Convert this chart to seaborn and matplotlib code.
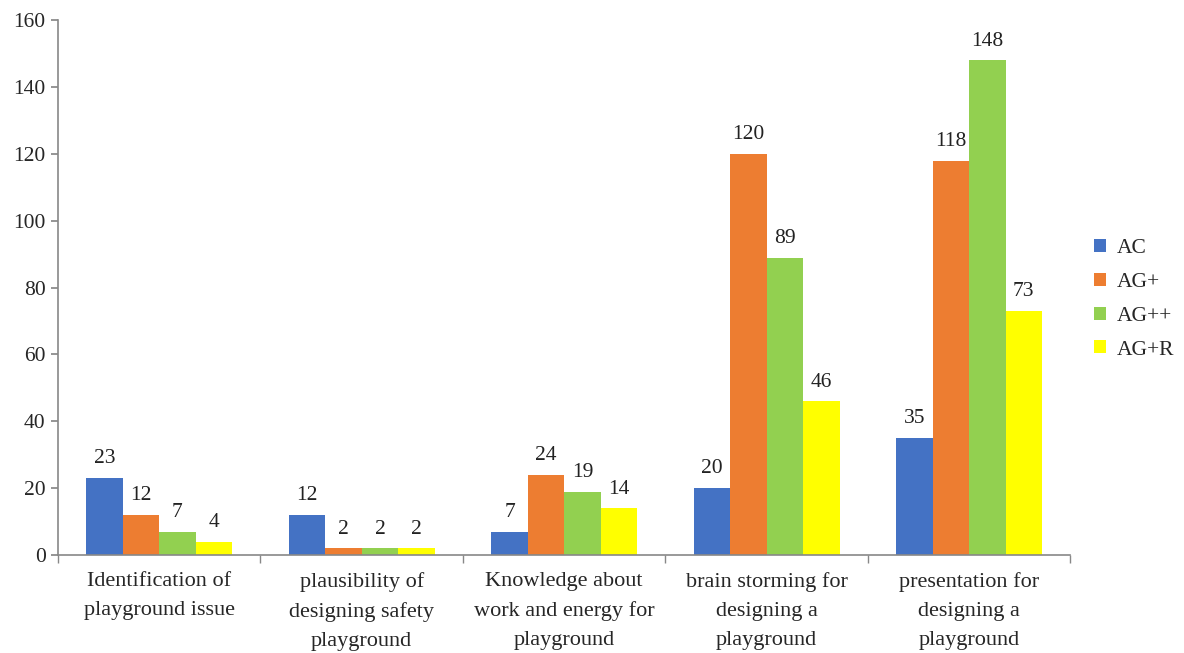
import matplotlib
matplotlib.use("Agg")
import matplotlib.pyplot as plt
import seaborn as sns
import pandas as pd

categories = ["Identification of\nplayground issue",
              "plausibility of\ndesigning safety\nplayground",
              "Knowledge about\nwork and energy for\nplayground",
              "brain storming for\ndesigning a\nplayground",
              "presentation for\ndesigning a\nplayground"]
series = ["AC", "AG+", "AG++", "AG+R"]
ac = [23, 12, 7, 20, 35]
ag_plus = [12, 2, 24, 120, 118]
ag_pp = [7, 2, 19, 89, 148]
ag_r = [4, 2, 14, 46, 73]
colors = ["#4472C4", "#ED7D31", "#92D050", "#FFFF00"]
yticks = [0, 20, 40, 60, 80, 100, 120, 140, 160]

rows = []
for s, vals in zip(series, [ac, ag_plus, ag_pp, ag_r]):
    for c, v in zip(categories, vals):
        rows.append({"category": c, "series": s, "value": v})
df = pd.DataFrame(rows)

sns.set_theme(style="white")
plt.rcParams['font.family'] = ['Liberation Serif', 'DejaVu Serif']

fig = plt.figure(figsize=(11.84, 6.53), dpi=100)
ax = fig.add_axes([0.049, 0.150, 0.855, 0.819])
sns.barplot(data=df, x="category", y="value", hue="series", order=categories,
            hue_order=series, palette=colors, width=0.72, saturation=1,
            ax=ax, errorbar=None, linewidth=0)

for cont in ax.containers:
    ax.bar_label(cont, padding=7, fontsize=15.5, color="#222222")

ax.set_ylim(0, 160)
ax.set_yticks(yticks)
ax.set_xlim(-0.5, len(categories) - 0.5)
ax.set_xticks(range(len(categories)))
ax.set_xticklabels(categories, linespacing=1.72, fontsize=16)
ax.set_xlabel("")
ax.set_ylabel("")
ax.tick_params(axis='y', labelsize=15.5, length=5, color="#888888", direction='out', left=True, pad=4)
ax.tick_params(axis='x', which='major', length=0, pad=12)
ax.set_xticks([i - 0.5 for i in range(len(categories) + 1)], minor=True)
ax.tick_params(axis='x', which='minor', length=6, color="#888888", bottom=True, direction='out')

for side in ["top", "right"]:
    ax.spines[side].set_visible(False)
for side in ["left", "bottom"]:
    ax.spines[side].set_color("#888888")
    ax.spines[side].set_linewidth(1.2)

leg = ax.legend(loc="center left", bbox_to_anchor=(1.004, 0.478), frameon=False,
                fontsize=15.5, handlelength=0.55, handleheight=0.55, labelspacing=0.68,
                handletextpad=0.5)

fig.savefig("out.png", dpi=100)
